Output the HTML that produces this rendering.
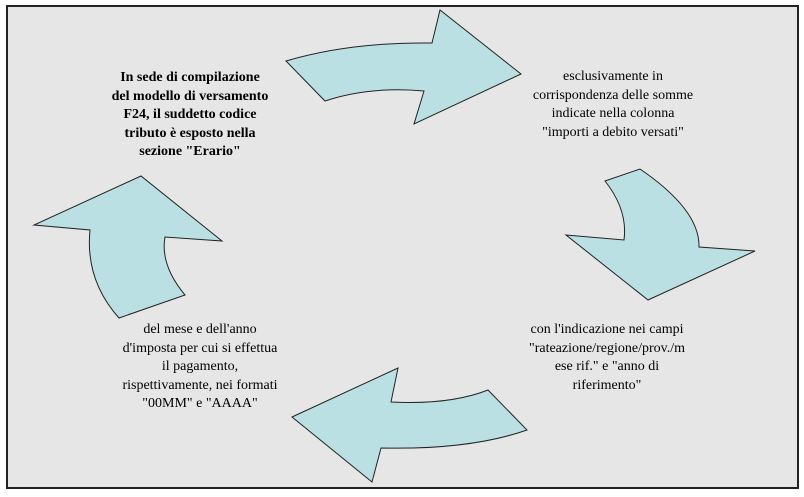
<!DOCTYPE html>
<html><head><style>
body{margin:0;width:804px;height:497px;background:#fff;overflow:hidden;position:relative;font-family:"Liberation Serif",serif;}
.frame{position:absolute;left:6px;top:5px;width:789px;height:480px;border:2px solid #222;background:#e6e6e6;}
.t{position:absolute;font-size:14px;line-height:18.5px;text-align:center;color:#000;white-space:nowrap;}
</style></head><body>
<div class="frame"></div>
<svg width="804" height="497" style="position:absolute;left:0;top:0">
<g fill="#bbe0e3" stroke="#222" stroke-width="1">
<path d="M286,61 Q350,42 432,43 L440,10 L521,74 L414,124 L424,91 Q370,86 325,101 Z"/>
<path d="M605,181 L640,169 Q700,210 699,247 L755,251 L648,300 L566,235 L624,240 Q628,210 605,181 Z"/>
<path d="M292,417 L398,368 L391,402 Q450,405 488,390 L527,430 Q470,450 381,448 L372,482 Z"/>
<path d="M141,176 L34,225 L90,230 Q85,280 119,318 L185,295 Q160,265 165,237 L222,241 Z"/>
</g></svg>
<div class="t" style="left:90px;top:69px;width:200px;font-weight:bold">In sede di compilazione<br>del modello di versamento<br>F24, il suddetto codice<br>tributo è esposto nella<br>sezione "Erario"</div>
<div class="t" style="left:513px;top:68px;width:200px">esclusivamente in<br>corrispondenza delle somme<br>indicate nella colonna<br>"importi a debito versati"</div>
<div class="t" style="left:507px;top:321px;width:200px">con l'indicazione nei campi<br>"rateazione/regione/prov./m<br>ese rif." e "anno di<br>riferimento"</div>
<div class="t" style="left:100px;top:321px;width:200px">del mese e dell'anno<br>d'imposta per cui si effettua<br>il pagamento,<br>rispettivamente, nei formati<br>"00MM" e "AAAA"</div>
</body></html>
